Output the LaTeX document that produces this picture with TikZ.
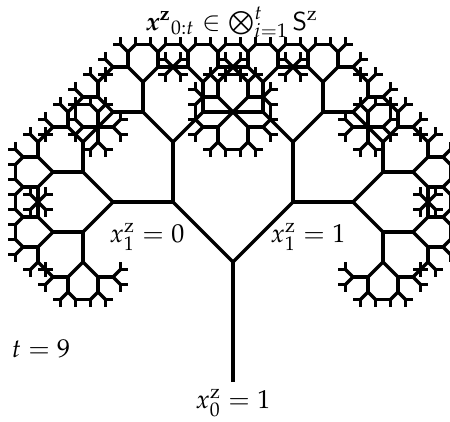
\documentclass[tikz,border=0pt]{standalone}
\usepackage{amsmath,amssymb}
\usepackage{mathpazo}
\usepackage{bm}

% one branch of length 120, then two smaller ones turned by 45 degrees
\newcommand\fractree[1]{%
 \draw (0,0)--(0,120);
 \ifnum#1>1
  \begin{scope}[shift={(0,120)},rotate=45,scale=0.7071]
   \fractree{\numexpr#1-1\relax}
  \end{scope}
  \begin{scope}[shift={(0,120)},rotate=-45,scale=0.7071]
   \fractree{\numexpr#1-1\relax}
  \end{scope}
 \fi}

\begin{document}
\begin{tikzpicture}[x=.385pt,y=.385pt,line width=1.25pt,
 font=\fontsize{10}{12}\selectfont]
 \useasboundingbox (0,0) rectangle (450,421);
 \begin{scope}[shift={(233,39)}]
  \fractree{9}
 \end{scope}
 \node[anchor=base] (title) at (232,391)
  {$\bm{x}^{\mathbf{z}}{}_{0:t}\in\bigotimes_{i=1}^{t}\mathsf{S}^{\mathrm{z}}$};
 \node[anchor=base] (left) at (147,179) {$x^{\mathrm{z}}_1=0$};
 \node[anchor=base] (right) at (308,179) {$x^{\mathrm{z}}_1=1$};
 \node[anchor=base] (root) at (233,13) {$x^{\mathrm{z}}_0=1$};
 \node[anchor=base] (steps) at (41,64) {$t=9$};
\end{tikzpicture}
\end{document}
